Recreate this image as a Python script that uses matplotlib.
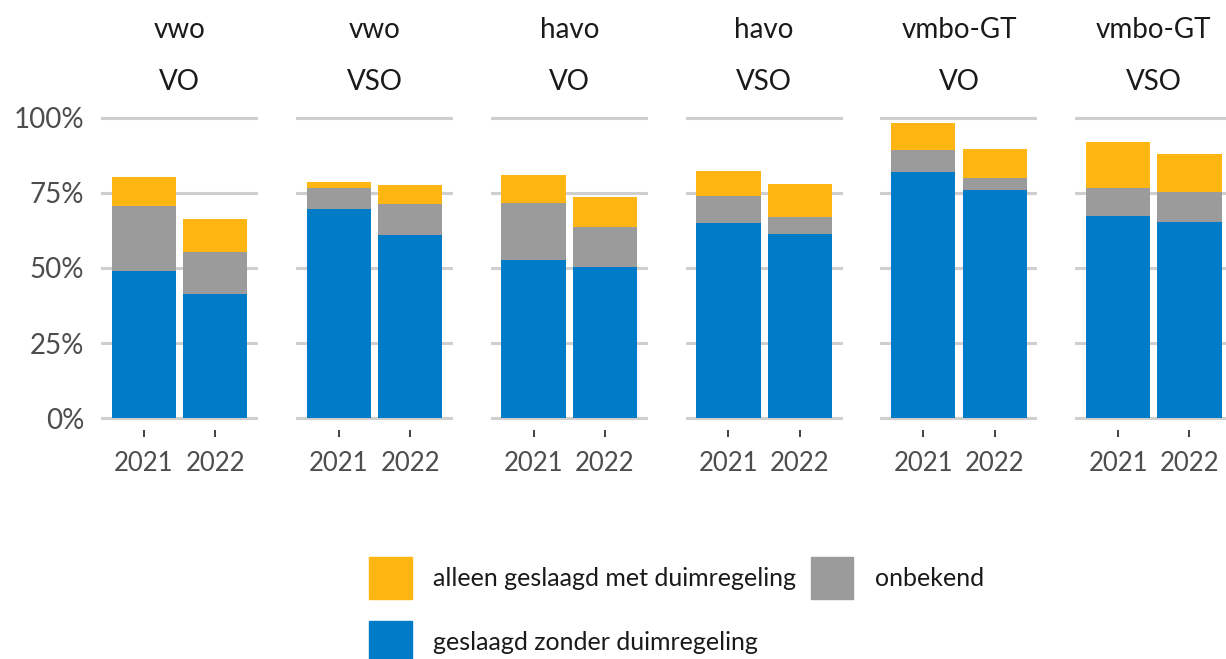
import numpy as np
import matplotlib.pyplot as plt
from matplotlib.patches import Patch

plt.rcParams['font.family'] = ['Lato', 'DejaVu Sans']

niveau = ['vwo', 'vwo', 'havo', 'havo', 'vmbo-GT', 'vmbo-GT']
sector = ['VO', 'VSO', 'VO', 'VSO', 'VO', 'VSO']
jaren = ['2021', '2022']

# percentages per panel: [2021, 2022]
zonder = [[48.9, 41.3], [69.6, 61.1], [52.7, 50.4], [65.0, 61.2], [81.8, 75.8], [67.4, 65.3]]
onbekend = [[21.7, 14.1], [7.1, 10.2], [18.8, 13.3], [9.1, 5.8], [7.4, 4.2], [9.2, 10.0]]
met_duim = [[9.6, 11.0], [1.8, 6.2], [9.5, 10.0], [8.3, 10.8], [8.9, 9.5], [15.3, 12.6]]

c_blue = '#007bc7'
c_gray = '#9b9b9b'
c_yellow = '#ffb612'
txt = '#4d4d4d'

W, H = 1226, 659
fig = plt.figure(figsize=(W / 100, H / 100), dpi=100)

ax_bottom = 430.3
ax_top = 105.7
for i in range(6):
    left = 101 + 194.86 * i
    ax = fig.add_axes([left / W, 1 - ax_bottom / H, 157 / W, (ax_bottom - ax_top) / H])
    x = np.arange(2)
    b = np.array(zonder[i])
    g = np.array(onbekend[i])
    y = np.array(met_duim[i])
    ax.bar(x, b, width=0.9, color=c_blue, zorder=3)
    ax.bar(x, g, width=0.9, bottom=b, color=c_gray, zorder=3)
    ax.bar(x, y, width=0.9, bottom=b + g, color=c_yellow, zorder=3)
    ax.set_xlim(-0.6, 1.6)
    ax.set_ylim(-4, 104)
    ax.set_yticks([0, 25, 50, 75, 100])
    ax.grid(axis='y', color='#cfcfcf', linewidth=2.2, zorder=0)
    for s in ax.spines.values():
        s.set_visible(False)
    ax.set_xticks(x)
    ax.set_xticklabels(jaren)
    ax.tick_params(axis='x', length=5, width=1.3, color='#333333', pad=10,
                   labelsize=18.5, labelcolor=txt)
    ax.tick_params(axis='y', length=0, pad=12, labelsize=20, labelcolor=txt)
    if i == 0:
        ax.set_yticklabels(['0%', '25%', '50%', '75%', '100%'])
    else:
        ax.set_yticklabels([])
    ax.text(0.5, 1.233, niveau[i], transform=ax.transAxes, ha='center', va='center',
            fontsize=20, color='#1a1a1a')
    ax.text(0.5, 1.073, sector[i], transform=ax.transAxes, ha='center', va='center',
            fontsize=20, color='#1a1a1a')

handles = [Patch(color=c_yellow, label='alleen geslaagd met duimregeling'),
           Patch(color=c_blue, label='geslaagd zonder duimregeling'),
           Patch(color=c_gray, label='onbekend')]
fig.legend(handles=handles, ncol=2, loc='upper left', bbox_to_anchor=(369 / W, 1 - 557 / H),
           frameon=False, fontsize=18, labelcolor='#1a1a1a', handlelength=1.7, handleheight=2.2,
           handletextpad=0.85, columnspacing=0.6, labelspacing=0.88, borderpad=0, borderaxespad=0)

fig.savefig('out.png', dpi=100)
